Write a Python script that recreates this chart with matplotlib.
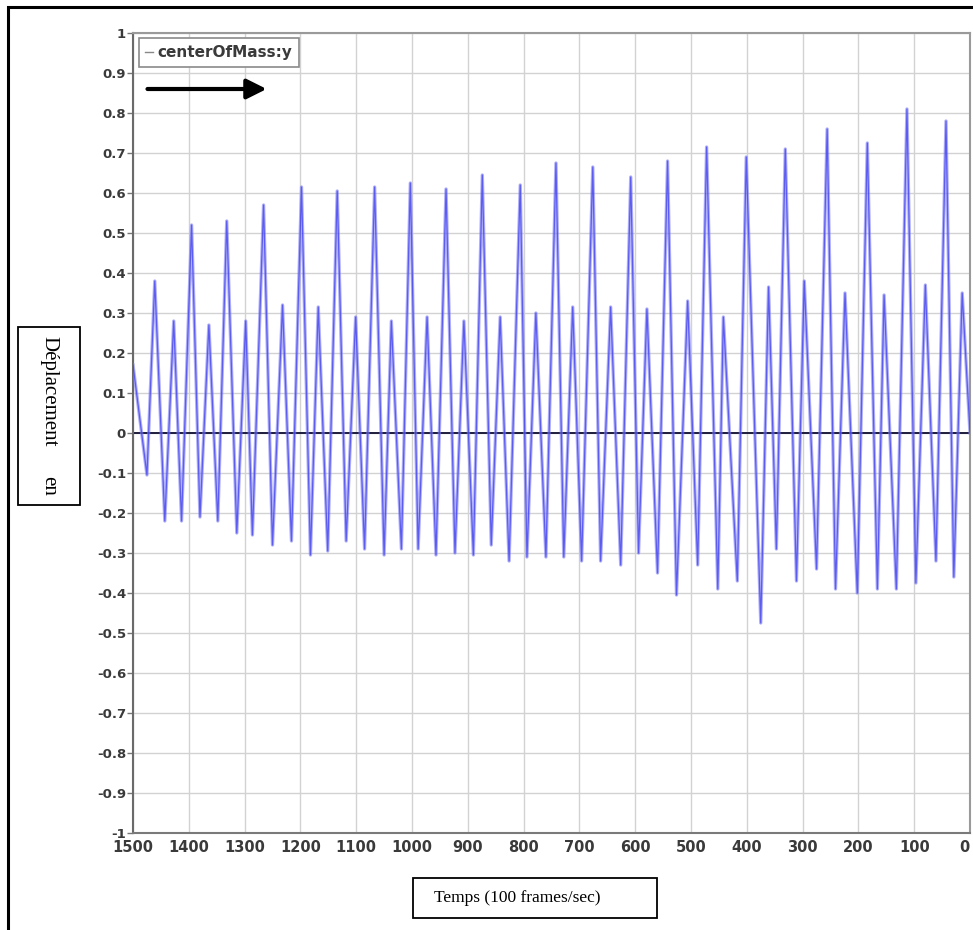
import matplotlib
matplotlib.use("Agg")
import matplotlib.pyplot as plt
from matplotlib.lines import Line2D
from matplotlib.patches import Rectangle, FancyArrowPatch

# ---- data (frame index, centerOfMass:y) ----
frames = [1500, 1475, 1461, 1443, 1427, 1413, 1395, 1380, 1364, 1348,
          1332, 1314, 1298, 1286, 1266, 1250, 1232, 1216, 1198, 1182,
          1168, 1151, 1134, 1118, 1101, 1085, 1067, 1050, 1037, 1019,
          1003, 989, 973, 957, 939, 923, 907, 890, 874, 858,
          842, 826, 806, 794, 778, 760, 742, 728, 712, 696,
          676, 662, 644, 626, 608, 594, 579, 560, 542, 526,
          506, 488, 472, 452, 442, 417, 401, 375, 361, 347,
          331, 311, 297, 275, 256, 241, 224, 202, 184, 166,
          154, 132, 113, 97, 80, 61, 43, 29, 14, 0]
center_y = [0.17, -0.105, 0.38, -0.22, 0.28, -0.22, 0.52, -0.21, 0.27, -0.22,
            0.53, -0.25, 0.28, -0.255, 0.57, -0.28, 0.32, -0.27, 0.615, -0.305,
            0.315, -0.295, 0.605, -0.27, 0.29, -0.29, 0.615, -0.305, 0.28, -0.29,
            0.625, -0.29, 0.29, -0.305, 0.61, -0.30, 0.28, -0.305, 0.645, -0.28,
            0.29, -0.32, 0.62, -0.31, 0.30, -0.31, 0.675, -0.31, 0.315, -0.32,
            0.665, -0.32, 0.315, -0.33, 0.64, -0.30, 0.31, -0.35, 0.68, -0.405,
            0.33, -0.33, 0.715, -0.39, 0.29, -0.37, 0.69, -0.475, 0.365, -0.29,
            0.71, -0.37, 0.38, -0.34, 0.76, -0.39, 0.35, -0.40, 0.725, -0.39,
            0.345, -0.39, 0.81, -0.375, 0.37, -0.32, 0.78, -0.36, 0.35, 0.0]

x_ticks = [1500, 1400, 1300, 1200, 1100, 1000, 900, 800, 700, 600, 500, 400, 300, 200, 100, 0]
y_ticks = [1, 0.9, 0.8, 0.7, 0.6, 0.5, 0.4, 0.3, 0.2, 0.1, 0,
           -0.1, -0.2, -0.3, -0.4, -0.5, -0.6, -0.7, -0.8, -0.9, -1]
y_tick_labels = ["1", "0.9", "0.8", "0.7", "0.6", "0.5", "0.4", "0.3", "0.2", "0.1", "0",
                 "-0.1", "-0.2", "-0.3", "-0.4", "-0.5", "-0.6", "-0.7", "-0.8", "-0.9", "-1"]
series_label = "centerOfMass:y"
x_label = "Temps (100 frames/sec)"
y_label_words = ["Déplacement", "en"]

W, H = 973, 930
fig = plt.figure(figsize=(W / 100, H / 100), dpi=100)
fig.patch.set_facecolor("white")

ax = fig.add_axes([133 / W, 1 - 833 / H, (970 - 133) / W, 800 / H])
ax.plot(frames, center_y, color="#7c7cf6", lw=2.4, alpha=0.6, zorder=3)
ax.plot(frames, center_y, color="#4040ee", lw=0.9, alpha=0.75, zorder=3)
ax.axhline(0, color="#1e1e3c", lw=1.4, zorder=2)

ax.set_xlim(1500, 0)
ax.set_ylim(-1, 1)
ax.set_xticks(x_ticks)
ax.set_xticklabels([str(v) for v in x_ticks])
ax.set_yticks(y_ticks)
ax.set_yticklabels(y_tick_labels)
ax.grid(True, color="#d2d2d2", lw=1.0, zorder=0)
ax.tick_params(axis="y", length=4, width=1, color="#777", pad=1,
               labelsize=9.5, labelcolor="#3a3a3a")
ax.tick_params(axis="x", length=0, pad=5, labelsize=10.5, labelcolor="#3a3a3a")
for lab in ax.get_xticklabels() + ax.get_yticklabels():
    lab.set_fontweight("semibold")
ax.get_xticklabels()[-1].set_horizontalalignment("right")
for s in ax.spines.values():
    s.set_color("#9a9a9a")
    s.set_linewidth(1.5)
ax.spines["left"].set_color("#6a6a6a")
ax.spines["bottom"].set_color("#7a7a7a")

handle = Line2D([], [], color="#888888", lw=1)
leg = ax.legend([handle], [series_label], loc="upper left", handlelength=0.5,
                handletextpad=0.3, borderpad=0.45, fancybox=False,
                bbox_to_anchor=(0.003, 0.997), fontsize=11, framealpha=1,
                borderaxespad=0.2)
leg.get_frame().set_edgecolor("#8a8a8a")
leg.get_frame().set_linewidth(1.2)
for t in leg.get_texts():
    t.set_color("#3a3a3a")
    t.set_fontweight("semibold")

arrow = FancyArrowPatch((0.014, 0.93), (0.163, 0.93), transform=ax.transAxes,
                        arrowstyle="-|>,head_length=8,head_width=4", color="black",
                        lw=3, mutation_scale=1.5, zorder=6)
ax.add_patch(arrow)

# outer frame (left and top edges visible)
fig.patches.append(Rectangle((8 / W, -0.05), 1.2, 0.05 + (H - 7) / H,
                             transform=fig.transFigure, fill=False,
                             edgecolor="black", lw=2.2))

# y label box
fig.patches.append(Rectangle((18 / W, 1 - 505 / H), 62 / W, 178 / H,
                             transform=fig.transFigure, fill=False,
                             edgecolor="black", lw=1.3))
fig.text(49 / W, 1 - 336 / H, y_label_words[0], rotation=-90, ha="center", va="top",
         family="Liberation Serif", fontsize=15)
fig.text(49 / W, 1 - 476 / H, y_label_words[1], rotation=-90, ha="center", va="top",
         family="Liberation Serif", fontsize=15)

# x label box
fig.patches.append(Rectangle((413 / W, 1 - 918 / H), 244 / W, 40 / H,
                             transform=fig.transFigure, fill=False,
                             edgecolor="black", lw=1.3))
fig.text(434 / W, 1 - 898 / H, x_label, ha="left", va="center",
         family="Liberation Serif", fontsize=12.5)

fig.savefig("out.png", dpi=100)
